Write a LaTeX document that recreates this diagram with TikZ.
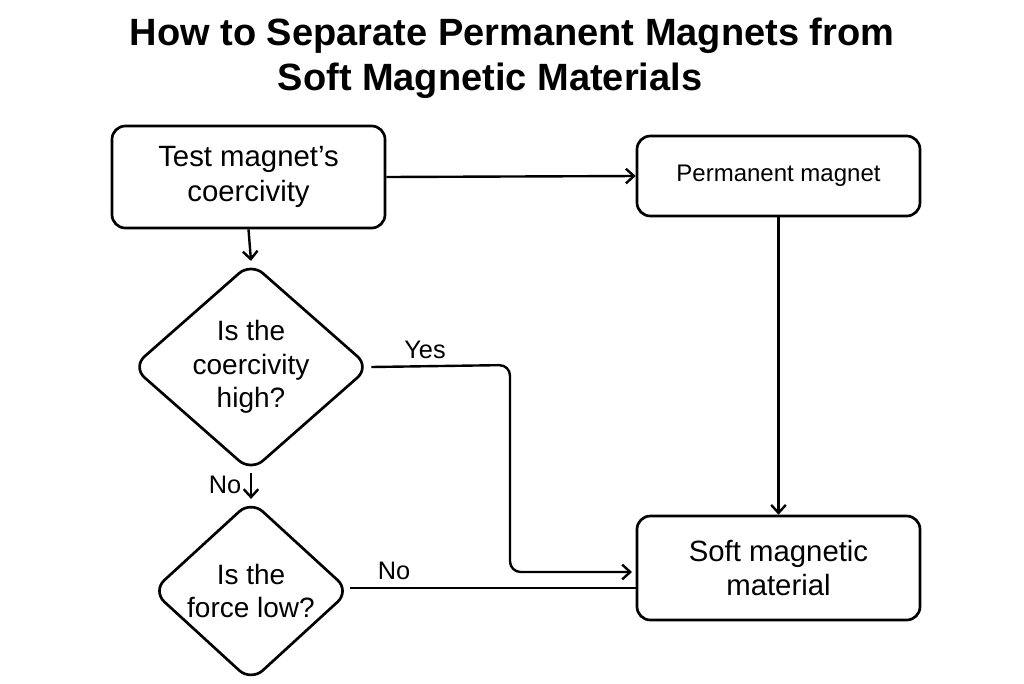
\documentclass[tikz,border=0pt]{standalone}
\usepackage{fontspec}
\setmainfont{Liberation Sans}
\usetikzlibrary{shapes.geometric,arrows.meta}
\begin{document}
\begin{tikzpicture}[x=0.75pt,y=-0.75pt,
  box/.style={draw,line width=2pt,rounded corners=10pt,align=center,font=\fontsize{22}{26}\selectfont},
  dia/.style={draw,line width=2pt,diamond,rounded corners=12pt,align=center,font=\fontsize{21}{25}\selectfont,inner sep=0pt},
  ar/.style={line width=1.8pt,-{Straight Barb[length=6pt,width=11pt]}},
  ln/.style={line width=1.8pt},
  lab/.style={font=\fontsize{19}{22}\selectfont}]
\useasboundingbox (0,0) rectangle (1024,683);
\node[font=\bfseries\fontsize{28.5}{34}\selectfont,align=center] (t1) at (512,36) {How to Separate Permanent Magnets from};
\node[font=\bfseries\fontsize{28.5}{34}\selectfont] (t2) at (490,81) {Soft Magnetic Materials};
\node[box,minimum width=273*0.75pt,minimum height=102*0.75pt] (b1) at (248.5,177) {Test magnet’s\\coercivity};
\node[box,minimum width=283*0.75pt,minimum height=80*0.75pt,font=\fontsize{18}{22}\selectfont] (b2) at (778.5,176) {Permanent magnet};
\node[box,minimum width=283*0.75pt,minimum height=104*0.75pt] (b3) at (778.5,568) {Soft magnetic\\material};
\node[dia,minimum width=238*0.75pt,minimum height=190*0.75pt] (d1) at (251,367) {Is the\\coercivity\\high?};
\node[dia,minimum width=198*0.75pt,minimum height=142*0.75pt] (d2) at (251,591) {Is the\\force low?};
\coordinate (c1) at (510,365);
\coordinate (c2) at (510,572);
\coordinate (e3) at (632,572);
\coordinate (d2r) at (350,588);
\coordinate (b3l) at (637,588);
\draw[ar] (b1.south) -- (d1.north);
\draw[ar] (b1.east) -- (b2.west);
\draw[ar] (b2.south) -- (b3.north);
\draw[ar,rounded corners=8pt] (d1.east) -- (c1) -- (c2) -- (e3);
\draw[ar] (d1.south) -- (d2.north);
\draw[ln] (d2r) -- (b3l);
\node[lab] (y) at (425,350) {Yes};
\node[lab] (n1) at (225,485) {No};
\node[lab] (n2) at (394,571) {No};
\end{tikzpicture}
\end{document}
